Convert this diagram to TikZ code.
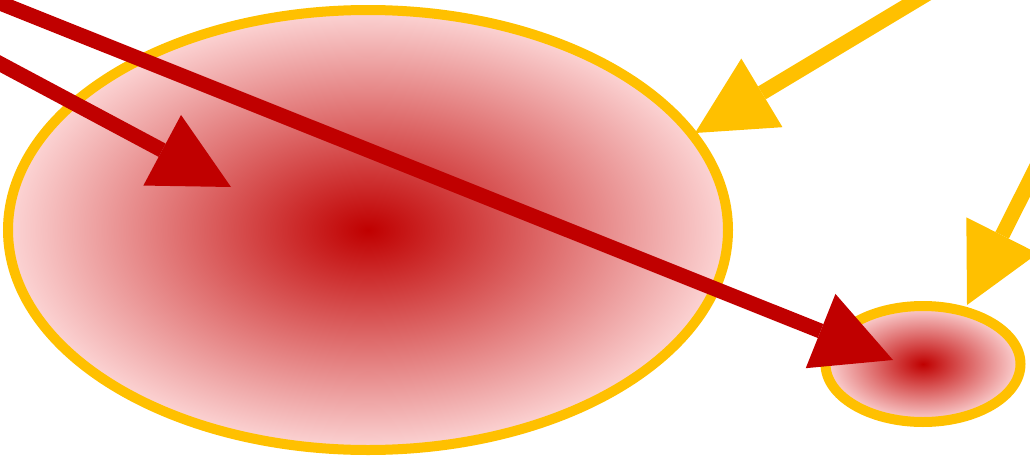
\documentclass[tikz,border=0pt]{standalone}
\usetikzlibrary{arrows.meta, shapes.geometric}

\definecolor{darkred}{HTML}{C00000}
\definecolor{paleRed}{HTML}{FCD5D5}
\definecolor{amber}{HTML}{FFC000}

\begin{document}
\begin{tikzpicture}[x=1pt, y=-1pt,
  blob/.style={ellipse, draw=amber, line width=10pt, inner sep=0pt,
    inner color=darkred, outer color=paleRed},
  redarrow/.style={draw=darkred, line width=15pt,
    -{Triangle[length=78pt, width=80pt, line width=0pt]}},
  amberarrow/.style={draw=amber, line width=15pt,
    -{Triangle[length=78pt, width=80pt, line width=0pt]}}
]

% Fix the frame of the picture
\useasboundingbox (0,0) rectangle (1030,455);
\clip (0,0) rectangle (1030,455);

% Draw the two shaded ellipses
\node[blob, minimum width=720pt, minimum height=440pt] (big) at (368,230) {};
\node[blob, minimum width=195pt, minimum height=116pt] (small) at (923,364) {};

% Define the loose ends of the arrows (outside the frame)
\coordinate (RedStartA) at (-20,53);
\coordinate (RedStartB) at (-20,-5);
\coordinate (AmberStartA) at (950,-20);
\coordinate (AmberStartB) at (1040,160);

% Define the tips of the arrows
\coordinate (RedTipA) at (231,187);
\coordinate (RedTipB) at (893,360);
\coordinate (AmberTipA) at (695,133);
\coordinate (AmberTipB) at (967,305);

% Draw the red arrows
\draw[redarrow] (RedStartA) -- (RedTipA);
\draw[redarrow] (RedStartB) -- (RedTipB);

% Draw the amber arrows
\draw[amberarrow] (AmberStartA) -- (AmberTipA);
\draw[amberarrow] (AmberStartB) -- (AmberTipB);

\end{tikzpicture}
\end{document}
